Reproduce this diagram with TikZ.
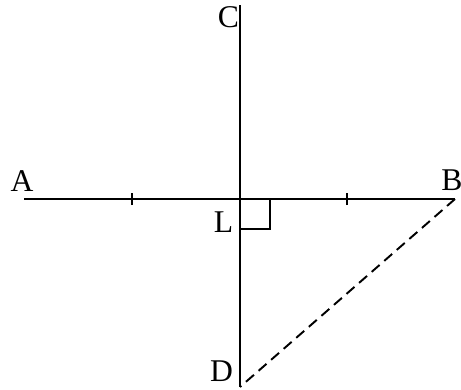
\documentclass[tikz,border=0pt]{standalone}
\usepackage{fontspec}
\setmainfont{Liberation Serif}
\usepackage{tikz}

\begin{document}
\begin{tikzpicture}[line width=1.1pt,
  lbl/.style={font=\fontsize{18}{18}\selectfont, inner sep=0pt},
  tick/.style={line width=1.3pt}]

  \useasboundingbox (0,0) rectangle (9.22,7.78);

  % points
  \coordinate (A) at (0.48,3.80);
  \coordinate (B) at (9.10,3.80);
  \coordinate (C) at (4.80,7.68);
  \coordinate (D) at (4.80,0.04);
  \coordinate (L) at (4.80,3.80);
  \coordinate (P) at (2.64,3.80);
  \coordinate (Q) at (6.94,3.80);

  % labels
  \node[lbl] (lA) at (0.44,4.16) {A};
  \node[lbl] (lB) at (9.04,4.18) {B};
  \node[lbl] (lC) at (4.57,7.44) {C};
  \node[lbl] (lL) at (4.47,3.34) {L};
  \node[lbl] (lD) at (4.43,0.36) {D};

  % lines
  \draw (A) -- (B);
  \draw (C) -- (D);
  \draw[dash pattern=on 6pt off 3.5pt] (B) -- (D);

  % equal parts
  \draw[tick] ([yshift=-0.12cm]P) -- ([yshift=0.12cm]P);
  \draw[tick] ([yshift=-0.12cm]Q) -- ([yshift=0.12cm]Q);

  % right angle at L
  \draw (L) -- ++(0.6,0) -- ++(0,-0.6) -- ++(-0.6,0);
\end{tikzpicture}
\end{document}
